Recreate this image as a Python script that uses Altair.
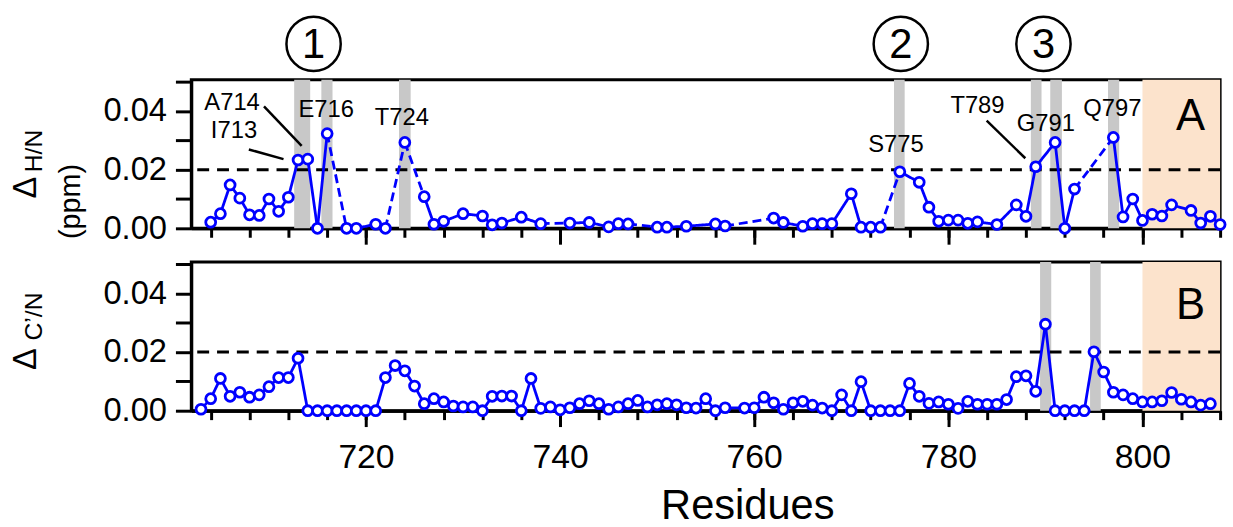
import altair as alt
import pandas as pd

FONT = "Liberation Sans"
BLUE = "#0000FF"
GREY = "#C8C8C8"
PEACH = "#FCE3CC"

# ---- panel A: H/N combined chemical-shift perturbation per residue ----
res_a = [704, 705, 706, 707, 708, 709, 710, 711, 712, 713, 714, 715, 716,
         718, 719, 721, 722, 724, 726, 727, 728, 730, 732, 733, 734, 736,
         738, 741, 743, 745, 746, 747, 750, 751, 753, 756, 757, 762, 763,
         765, 766, 767, 768, 770, 771, 772, 773, 775, 777, 778, 779, 780,
         781, 782, 783, 785, 787, 788, 789, 791, 792, 793, 797, 798, 799,
         800, 801, 802, 803, 805, 806, 807, 808]
val_a = [0.0021, 0.0050, 0.0148, 0.0103, 0.0046, 0.0044, 0.0100, 0.0058,
         0.0106, 0.0233, 0.0236, 0.0000, 0.0323, 0.0000, 0.0000, 0.0014,
         0.0000, 0.0293, 0.0108, 0.0014, 0.0024, 0.0050, 0.0042, 0.0012,
         0.0018, 0.0038, 0.0016, 0.0018, 0.0020, 0.0005, 0.0016, 0.0015,
         0.0004, 0.0004, 0.0007, 0.0015, 0.0008, 0.0035, 0.0020, 0.0007,
         0.0016, 0.0016, 0.0016, 0.0118, 0.0004, 0.0004, 0.0004, 0.0193,
         0.0157, 0.0072, 0.0024, 0.0028, 0.0028, 0.0017, 0.0022, 0.0013,
         0.0080, 0.0041, 0.0210, 0.0293, 0.0000, 0.0134, 0.0310, 0.0039,
         0.0100, 0.0027, 0.0048, 0.0042, 0.0080, 0.0061, 0.0018, 0.0041,
         0.0013]
# residues whose link to the next point is drawn dashed
dash_a = [716, 722, 724, 738, 747, 757, 773, 793]

# ---- panel B: C'/N combined chemical-shift perturbation per residue ----
res_b = [703, 704, 705, 706, 707, 708, 709, 710, 711, 712, 713, 714, 715,
         716, 717, 718, 719, 720, 721, 722, 723, 724, 725, 726, 727, 728,
         729, 730, 731, 732, 733, 734, 735, 736, 737, 738, 739, 740, 741,
         742, 743, 744, 745, 746, 747, 748, 749, 750, 751, 752, 753, 754,
         755, 756, 757, 759, 760, 761, 762, 763, 764, 765, 766, 767, 768,
         769, 770, 771, 772, 773, 774, 775, 776, 777, 778, 779, 780, 781,
         782, 783, 784, 785, 786, 787, 788, 789, 790, 791, 792, 793, 794,
         795, 796, 797, 798, 799, 800, 801, 802, 803, 804, 805, 806, 807]
val_b = [0.0005, 0.0041, 0.0110, 0.0049, 0.0063, 0.0046, 0.0054, 0.0082,
         0.0113, 0.0113, 0.0179, 0.0000, 0.0000, 0.0000, 0.0000, 0.0000,
         0.0000, 0.0000, 0.0000, 0.0113, 0.0154, 0.0136, 0.0084, 0.0024,
         0.0041, 0.0030, 0.0016, 0.0013, 0.0013, 0.0000, 0.0049, 0.0050,
         0.0050, 0.0000, 0.0110, 0.0008, 0.0013, 0.0003, 0.0010, 0.0024,
         0.0034, 0.0024, 0.0005, 0.0013, 0.0024, 0.0035, 0.0013, 0.0020,
         0.0024, 0.0020, 0.0010, 0.0009, 0.0041, 0.0000, 0.0010, 0.0009,
         0.0010, 0.0046, 0.0027, 0.0005, 0.0027, 0.0032, 0.0019, 0.0009,
         0.0000, 0.0054, 0.0000, 0.0099, 0.0000, 0.0000, 0.0000, 0.0000,
         0.0093, 0.0049, 0.0025, 0.0030, 0.0022, 0.0008, 0.0032, 0.0022,
         0.0022, 0.0022, 0.0038, 0.0116, 0.0119, 0.0066, 0.0295, 0.0000,
         0.0000, 0.0000, 0.0000, 0.0201, 0.0132, 0.0063, 0.0054, 0.0041,
         0.0030, 0.0030, 0.0034, 0.0062, 0.0039, 0.0030, 0.0019, 0.0024]
dash_b = []

assert len(res_a) == len(val_a) and len(res_b) == len(val_b)

# highlighted residues (grey bands) and the C-terminal region (peach band)
band_a_start = [712.6, 715.4, 723.4, 774.4, 788.5, 790.5, 796.45]
band_a_end = [714.25, 716.55, 724.6, 775.5, 789.6, 791.7, 797.6]
band_b_start = [789.45, 794.6]
band_b_end = [790.6, 795.7]
tail_start = [800]
tail_end = [808]

threshold = [0.02]

# residue labels in panel A
lab_text = ["I713", "A714", "E716", "T724", "S775", "T789", "G791", "Q797"]
lab_x = [706.4, 706.2, 715.9, 723.7, 774.6, 783.0, 790.05, 796.9]
lab_y = [0.0331, 0.0428, 0.0402, 0.0377, 0.0284, 0.0416, 0.0357, 0.0406]

# leader lines from labels to their points
lead_x = [707.93, 709.49, 783.95]
lead_y = [0.0269, 0.0416, 0.0367]
lead_x2 = [711.50, 713.37, 787.93]
lead_y2 = [0.0236, 0.0281, 0.0239]

# circled region numbers above panel A
region_text = ["1", "2", "3"]
region_x = [714.6, 775.1, 789.8]
region_y = [0.0629, 0.0629, 0.0629]

x_ticks_major = [720, 740, 760, 780, 800]
x_ticks_minor = [704, 708, 712, 716, 720, 724, 728, 732, 736, 740, 744, 748,
                 752, 756, 760, 764, 768, 772, 776, 780, 784, 788, 792, 796,
                 800, 804, 808]
y_ticks = [0.0, 0.01, 0.02, 0.03, 0.04, 0.05]

X_MIN, X_MAX = 702, 808
Y_MAX = 0.0507
W, H = 1038, 150

xs = alt.Scale(domain=[X_MIN, X_MAX], nice=False, zero=False)
ys = alt.Scale(domain=[0, Y_MAX], nice=False)

y_axis = alt.Axis(values=y_ticks, title=None, tickSize=16, labelFontSize=33,
                  labelPadding=9, labelFlush=False, labelOverlap=False,
                  labelExpr="round(datum.value*100) % 2 == 0 ? format(datum.value, '.2f') : ''")
minor_axis = alt.Axis(values=x_ticks_minor, orient="bottom", tickSize=9,
                      labels=False, title=None)


def Y(field):
    # every layer carries the same y axis so that the merged axis survives
    return alt.Y(field, scale=ys, axis=y_axis, title=None)


def major_axis(with_labels):
    if with_labels:
        return alt.Axis(values=x_ticks_major, orient="bottom", tickSize=16,
                        format="d", labelFontSize=34, labelPadding=14,
                        labelFlush=False, title="Residues",
                        titleFontSize=42, titleFontWeight="normal",
                        titleFont=FONT, titleColor="black", titleX=561,
                        titleY=109, titleBaseline="alphabetic",
                        titleAlign="center")
    return alt.Axis(values=x_ticks_major, orient="bottom", tickSize=16,
                    labels=False, title=None)


def segments(res, val, dashed):
    rows = []
    for i in range(len(res) - 1):
        rows.append({"x": res[i], "y": val[i], "x2": res[i + 1],
                     "y2": val[i + 1],
                     "style": "dash" if res[i] in dashed else "solid"})
    return pd.DataFrame(rows)


def rotated(text, x, y, size):
    return alt.Chart(pd.DataFrame({"t": [text]})).mark_text(
        angle=270, align="center", baseline="alphabetic", font=FONT,
        fontSize=size, color="black"
    ).encode(x=alt.value(x), y=alt.value(y), text="t:N")


def panel(res, val, dashed, b_start, b_end, letter, letter_y, bottom):
    tail = alt.Chart(pd.DataFrame({"x0": tail_start, "x1": tail_end,
                                   "y0": [0.0], "y1": [Y_MAX]})).mark_rect(
        color=PEACH).encode(
        x=alt.X("x0:Q", scale=xs, axis=minor_axis), x2="x1",
        y=Y("y0:Q"), y2="y1")
    bands = alt.Chart(pd.DataFrame({"x0": b_start, "x1": b_end,
                                    "y0": [0.0] * len(b_start),
                                    "y1": [Y_MAX] * len(b_start)})).mark_rect(
        color=GREY).encode(
        x=alt.X("x0:Q", scale=xs, axis=None), x2="x1",
        y=Y("y0:Q"), y2="y1")
    ref = alt.Chart(pd.DataFrame({"y": threshold})).mark_rule(
        color="black", strokeWidth=3, strokeDash=[12, 8]).encode(
        y=Y("y:Q"))
    links = alt.Chart(segments(res, val, dashed)).mark_rule(
        color=BLUE, strokeWidth=2.8).encode(
        x=alt.X("x:Q", scale=xs, axis=None), x2="x2",
        y=Y("y:Q"), y2="y2",
        strokeDash=alt.StrokeDash("style:N", legend=None, scale=alt.Scale(
            domain=["solid", "dash"], range=[[1, 0], [9, 5]])))
    pts = alt.Chart(pd.DataFrame({"res": res, "val": val})).mark_point(
        shape="circle", filled=True, fill="white", stroke=BLUE,
        strokeWidth=2.8, size=100, opacity=1).encode(
        x=alt.X("res:Q", scale=xs, axis=major_axis(bottom)),
        y=Y("val:Q"))
    tag = alt.Chart(pd.DataFrame({"x": [804.95], "y": [letter_y],
                                  "t": [letter]})).mark_text(
        font=FONT, fontSize=44, color="black", baseline="middle").encode(
        x=alt.X("x:Q", scale=xs, axis=None),
        y=Y("y:Q"), text="t:N")
    return [tail, bands, ref, links, pts, tag]


layers_a = panel(res_a, val_a, dash_a, band_a_start, band_a_end, "A", 0.0379,
                 False)
leaders = alt.Chart(pd.DataFrame({"x": lead_x, "y": lead_y, "x2": lead_x2,
                                  "y2": lead_y2})).mark_rule(
    color="black", strokeWidth=2.5).encode(
    x=alt.X("x:Q", scale=xs, axis=None), x2="x2",
    y=Y("y:Q"), y2="y2")
labels = alt.Chart(pd.DataFrame({"x": lab_x, "y": lab_y,
                                 "t": lab_text})).mark_text(
    font=FONT, fontSize=24, color="black", baseline="middle").encode(
    x=alt.X("x:Q", scale=xs, axis=None),
    y=Y("y:Q"), text="t:N")
region_df = pd.DataFrame({"x": region_x, "y": region_y, "t": region_text})
rings = alt.Chart(region_df).mark_point(
    shape="circle", filled=False, stroke="black", strokeWidth=2.5,
    size=3000, opacity=1).encode(
    x=alt.X("x:Q", scale=xs, axis=None),
    y=Y("y:Q"))
ring_num = alt.Chart(region_df).mark_text(
    font=FONT, fontSize=42, color="black", baseline="middle", dy=1).encode(
    x=alt.X("x:Q", scale=xs, axis=None),
    y=Y("y:Q"), text="t:N")

# rotated y titles: Δ with subscript for each panel, shared "(ppm)" line
panel_a = alt.layer(
    *layers_a, leaders, labels, rings, ring_num,
    rotated("Δ", -157, 109, 33), rotated("H/N", -151, 72, 25),
    rotated("(ppm)", -112, 123, 29)
).resolve_axis(x="independent").properties(width=W, height=H)

layers_b = panel(res_b, val_b, dash_b, band_b_start, band_b_end, "B", 0.0357,
                 True)
panel_b = alt.layer(
    *layers_b,
    rotated("Δ", -157, 98, 33), rotated("C’/N", -151, 55, 25)
).resolve_axis(x="independent").properties(width=W, height=H)

chart = alt.vconcat(panel_a, panel_b, spacing=34, bounds="flush").properties(
    padding={"left": 8, "top": 8, "right": 0, "bottom": 0},
    background="white"
).configure_view(
    stroke="black", strokeWidth=3
).configure_axis(
    domainColor="black", domainWidth=3, tickColor="black", tickWidth=3,
    labelColor="black", labelFont=FONT, grid=False
)

chart.save("out.html", embed_options={"renderer": "svg", "actions": False})
